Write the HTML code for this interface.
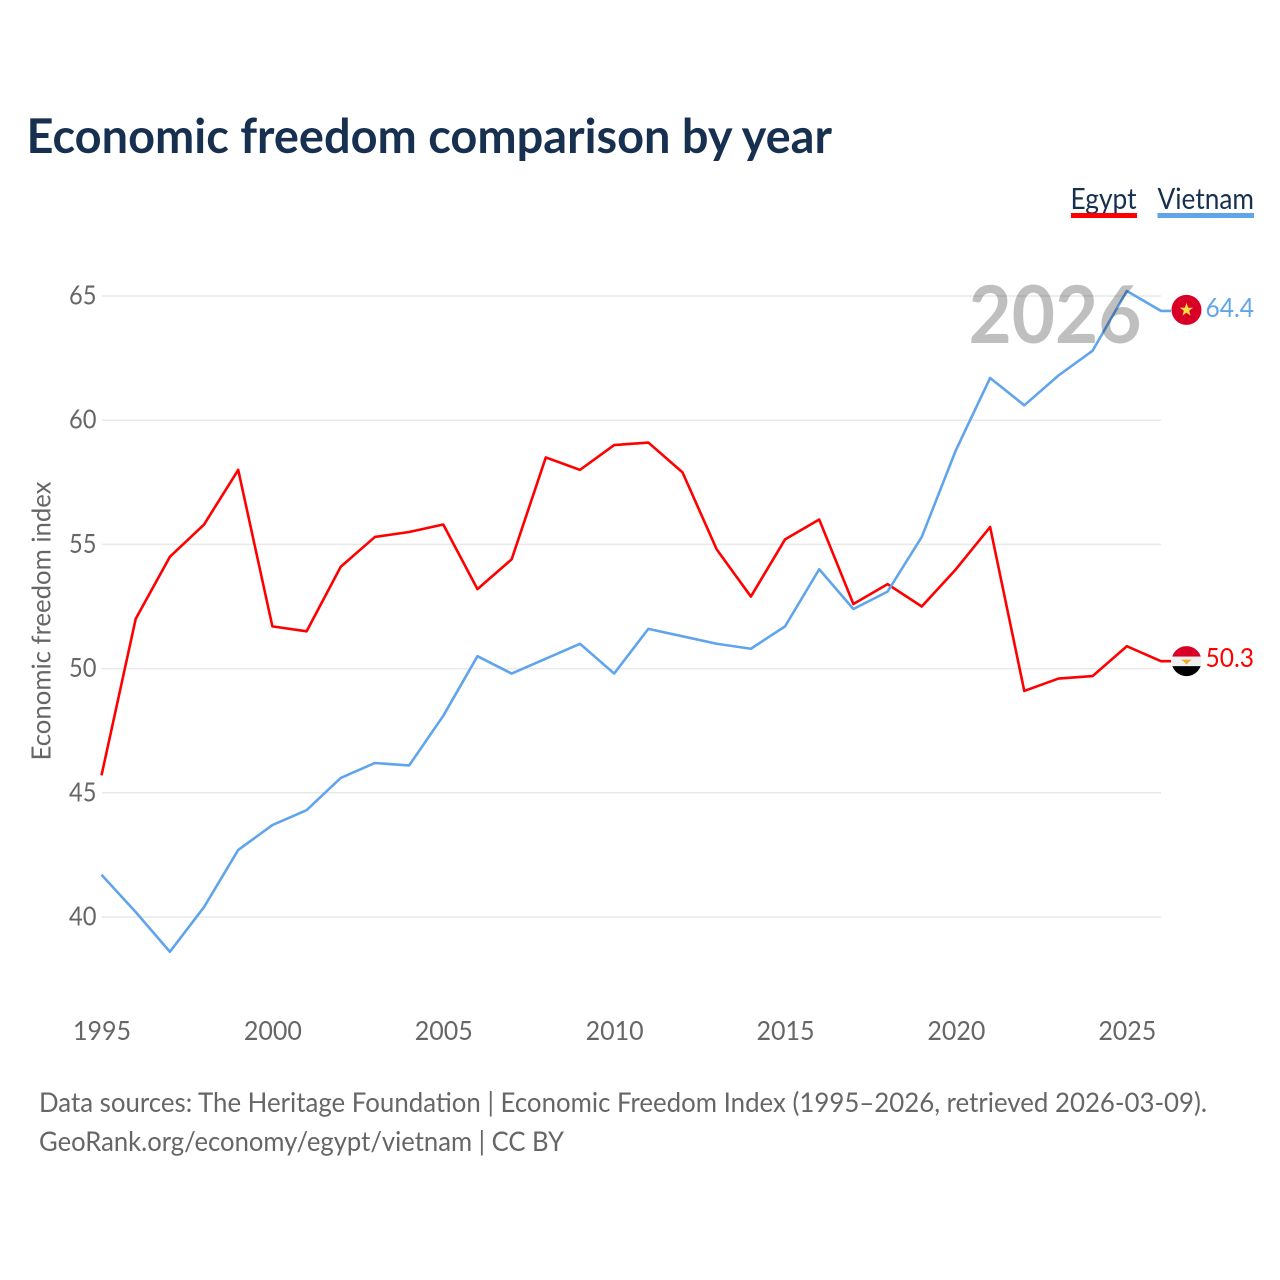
<!DOCTYPE html>
<html lang="en">
<head>
<meta charset="utf-8">
<title>Economic freedom comparison by year</title>
<style>
html,body{margin:0;padding:0;background:#fff;width:1280px;height:1280px;overflow:hidden}
svg{display:block}
text{font-family:"Lato","Carlito","Liberation Sans",sans-serif}
</style>
</head>
<body>
<svg id="chart" xmlns="http://www.w3.org/2000/svg" width="1280" height="1280" viewBox="0 0 1280 1280">
  <rect width="1280" height="1280" fill="#fff"/>
  <text x="26.5" y="153" font-size="48" font-weight="700" fill="#18304f" textLength="805.5" lengthAdjust="spacingAndGlyphs">Economic freedom comparison by year</text>
  <g>
    <text x="1070.5" y="209" font-size="29" fill="#18304f" textLength="66" lengthAdjust="spacingAndGlyphs">Egypt</text>
    <rect x="1071" y="213" width="66" height="5" fill="#ff0000"/>
  </g>
  <g>
    <text x="1157.5" y="209" font-size="29" fill="#18304f" textLength="96.5" lengthAdjust="spacingAndGlyphs">Vietnam</text>
    <rect x="1157.5" y="213" width="96.5" height="5" fill="#60a5ec"/>
  </g>
  <g id="grid"></g>
  <g id="yticks"></g>
  <g id="xticks"></g>
  <text transform="translate(50.5 621) rotate(-90)" text-anchor="middle" font-size="26" fill="#666" textLength="279" lengthAdjust="spacingAndGlyphs">Economic freedom index</text>
  <g id="series"></g>
  <text id="yearMark" x="1055" y="343" text-anchor="middle" font-size="80" font-weight="700" fill="#000" fill-opacity="0.25" textLength="173" lengthAdjust="spacingAndGlyphs">2026</text>
  <g id="ends"></g>
  <text x="39" y="1112" font-size="27.5" fill="#666" textLength="1168" lengthAdjust="spacingAndGlyphs">Data sources: The Heritage Foundation | Economic Freedom Index (1995–2026, retrieved 2026-03-09).</text>
  <text x="39" y="1151" font-size="27.5" fill="#666" textLength="525" lengthAdjust="spacingAndGlyphs">GeoRank.org/economy/egypt/vietnam | CC BY</text>
</svg>
<script>
const years = [1995,1996,1997,1998,1999,2000,2001,2002,2003,2004,2005,2006,2007,2008,2009,2010,2011,2012,2013,2014,2015,2016,2017,2018,2019,2020,2021,2022,2023,2024,2025,2026];
const egypt = [45.7,52.0,54.5,55.8,58.0,51.7,51.5,54.1,55.3,55.5,55.8,53.2,54.4,58.5,58.0,59.0,59.1,57.9,54.8,52.9,55.2,56.0,52.6,53.4,52.5,54.0,55.7,49.1,49.6,49.7,50.9,50.3];
const vietnam = [41.7,40.2,38.6,40.4,42.7,43.7,44.3,45.6,46.2,46.1,48.1,50.5,49.8,50.4,51.0,49.8,51.6,51.3,51.0,50.8,51.7,54.0,52.4,53.1,55.3,58.8,61.7,60.6,61.8,62.8,65.2,64.4];
const yTickValues = [40,45,50,55,60,65];
const xTickValues = [1995,2000,2005,2010,2015,2020,2025];

const NS = 'http://www.w3.org/2000/svg';
function xScale(year){ return 101.5 + (year - 1995) * (1161 - 101.5) / 31; }
function yScale(v){ return 917 - (v - 40) * (917 - 296) / 25; }
function make(tag, attrs, parent){
  const el = document.createElementNS(NS, tag);
  for (const k in attrs) el.setAttribute(k, attrs[k]);
  parent.appendChild(el);
  return el;
}
const grid = document.getElementById('grid');
const yticks = document.getElementById('yticks');
const xticks = document.getElementById('xticks');
const series = document.getElementById('series');
const ends = document.getElementById('ends');

yTickValues.forEach(function(v){
  const line = make('line', {x1:102, x2:1161, y1:yScale(v), y2:yScale(v), stroke:'#e9e9e9', 'stroke-width':1.5}, grid);
  
  
  const t = make('text', {x:96.5, y:yScale(v) + 8.5, 'text-anchor':'end', 'font-size':26, fill:'#666', textLength:27.5, lengthAdjust:'spacingAndGlyphs'}, yticks);
  t.textContent = v;
  
  
});
xTickValues.forEach(function(y){
  const t = make('text', {x:xScale(y) + 0.5, y:1040, 'text-anchor':'middle', 'font-size':26, fill:'#666', textLength:58, lengthAdjust:'spacingAndGlyphs'}, xticks);
  t.textContent = y;
  
  
});
function drawLine(values, color, name){
  const pts = values.map(function(v, i){ return xScale(years[i]).toFixed(2) + ',' + yScale(v).toFixed(2); });
  const last = values[values.length - 1];
  pts.push('1171,' + yScale(last).toFixed(2));
  const p = make('polyline', {points:pts.join(' '), fill:'none', stroke:color, 'stroke-width':2.6, 'stroke-linejoin':'round'}, series);
  
  
}
drawLine(egypt, '#ff0000', 'egypt');
drawLine(vietnam, '#60a5ec', 'vietnam');

function endLabel(values, color, name){
  const last = values[values.length - 1];
  const t = make('text', {x:1205.5, y:yScale(last) + 6, 'font-size':26, fill:color, textLength:48.5, lengthAdjust:'spacingAndGlyphs'}, ends);
  t.textContent = last.toFixed(1);
  
  
}
endLabel(egypt, '#ff0000', 'egypt');
endLabel(vietnam, '#60a5ec', 'vietnam');

const defs = make('defs', {}, ends);
const clipE = make('clipPath', {id:'clipEgypt'}, defs);
make('circle', {cx:1186.5, cy:yScale(egypt[egypt.length-1]), r:15}, clipE);

// Egypt flag
const ey = yScale(egypt[egypt.length-1]);
const flagE = make('g', {'clip-path':'url(#clipEgypt)'}, ends);


make('rect', {x:1171, y:ey-16, width:31, height:11.5, fill:'#d80027'}, flagE);
make('rect', {x:1171, y:ey-4.5, width:31, height:9.5, fill:'#f0f0f0'}, flagE);
make('rect', {x:1171, y:ey+5, width:31, height:11, fill:'#000'}, flagE);
make('path', {d:'M' + 1181 + ' ' + (ey-1.5) + 'h11l-3.5 2.5l-2 2.5l-2-2.5z', fill:'#f5a623'}, flagE);

// Vietnam flag
const vy = yScale(vietnam[vietnam.length-1]) - 1;
const flagV = make('g', {}, ends);


make('circle', {cx:1186.5, cy:vy, r:15, fill:'#d80027'}, flagV);
const starPts = [];
for (let i = 0; i < 10; i++) {
  const r = i % 2 ? 2.8 : 7;
  const a = -Math.PI / 2 + i * Math.PI / 5;
  starPts.push((1186.5 + r * Math.cos(a)).toFixed(2) + ',' + (vy + r * Math.sin(a)).toFixed(2));
}
make('polygon', {points:starPts.join(' '), fill:'#ffda44'}, flagV);
</script>
</body>
</html>
